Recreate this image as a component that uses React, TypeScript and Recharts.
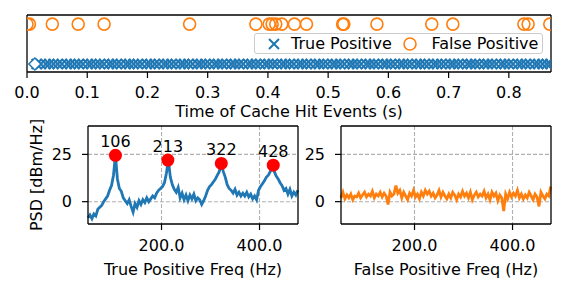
import React from "react";
import {
  ScatterChart,
  ComposedChart,
  Scatter,
  Line,
  XAxis,
  YAxis,
  CartesianGrid,
  Legend,
  ReferenceLine,
} from "recharts";

const BLUE = "#1f77b4";
const ORANGE = "#ff7f0e";

// cache hit event times, in ms
const truePositiveMs = [
  16, 23, 31, 37, 44, 51, 58, 66, 72, 79, 86, 93, 101, 107, 114, 121, 128, 136, 142, 149,
  156, 164, 170, 177, 184, 191, 199, 205, 212, 219, 227, 233, 240, 247, 255, 261, 268, 275,
  283, 289, 296, 303, 311, 317, 324, 331, 339, 345, 352, 359, 367, 373, 380, 387, 395, 401,
  408, 415, 423, 429, 436, 443, 451, 457, 464, 471, 479, 485, 492, 499, 507, 513, 520, 527,
  535, 541, 548, 555, 563, 569, 576, 583, 591, 597, 604, 611, 619, 625, 632, 639, 647, 653,
  660, 667, 675, 681, 688, 695, 703, 709, 716, 723, 731, 737, 744, 751, 759, 765, 772, 779,
  787, 793, 800, 807, 815, 821, 828, 835, 843, 849, 856, 863, 869,
];
const falsePositiveMs = [
  0, 4, 42, 85, 128, 270, 380, 402, 407, 413, 423, 444, 464, 524, 526, 581, 672, 707, 825,
  832, 868,
];
const startMarkerMs = [13];
const TP_ROW = 0.14;
const FP_ROW = 0.84;
const TIME_MAX = 0.87;
const timeTicks = [0, 0.1, 0.2, 0.3, 0.4, 0.5, 0.6, 0.7, 0.8];

// PSD, dBm/Hz
const freqHz = [
  50, 54, 58, 62, 66, 70, 74, 78, 82, 86, 90, 94, 98, 102, 106, 110, 114, 118, 122, 126,
  130, 134, 138, 142, 146, 150, 154, 158, 162, 166, 170, 174, 178, 182, 186, 190, 194, 198,
  202, 206, 210, 214, 218, 222, 226, 230, 234, 238, 242, 246, 250, 254, 258, 262, 266, 270,
  274, 278, 282, 286, 290, 294, 298, 302, 306, 310, 314, 318, 322, 326, 330, 334, 338, 342,
  346, 350, 354, 358, 362, 366, 370, 374, 378, 382, 386, 390, 394, 398, 402, 406, 410, 414,
  418, 422, 426, 430, 434, 438, 442, 446, 450, 454, 458, 462, 466, 470, 474, 478,
];
const truePsd = [
  -8.5, -7, -9, -6.5, -7.5, -4, -3, -2, 0, 1.5, 3, 6, 8.5, 14, 24.5, 12, 7, 5.5, 2, 0.5,
  -1, 1, -2.5, -5.5, -1, -3, 0.5, -1.5, 1, -0.5, 2, 0, 1.5, 3, 2, 4.5, 6, 7, 8, 10,
  15, 22, 13, 9, 6.5, 5, 7.5, 2, 4.5, 1, 3.5, 0.5, 3.5, 1.5, 4, 0.5, 2, 1, -1.5, 0.5,
  3, 6, 8, 9, 10.5, 12, 14, 16, 20.2, 16, 13, 9, 7, 6, 4.5, 6.5, 3.5, 5, 3, 4.5,
  3, 5, 2.5, 4, 1.5, 3, 1, 6, 8, 9.5, 11, 13, 14, 16, 19.3, 16, 13.5, 12, 10, 8.5,
  6, 7, 4, 6.5, 3, 5, 3.5, 6,
];
const falsePsd = [
  2, 5, 1.5, 3.5, 2, 4, 1, 3, 2.5, 4.5, 2, 3.5, 5, 2.5, 4, 3, 5.5, 2, 4, 3,
  5, 2.5, 4.5, 3, -1.5, 5, 3, 4, 8.5, 4.5, 6, 2, 5, 3, 1, 4.5, 3, 6, 2.5, 4,
  1.5, 5, 3, 6, 4, 5.5, 3, 4.5, 2, 3.5, 6, 2.5, 5, 3, 1.5, 4, 2, 5, 3.5, 1,
  4, 2.5, 5.5, 3, 4.5, 2, 5, 1, 3.5, 5, 2.5, 4, 3, 5.5, 2, 4, 1, 5, 3, 4.5,
  0.5, 3.5, 2, -5, 4, 1.5, 5, 2.5, 4.5, 3, 6, 2, 4, 1.5, 3.5, 2, 5, 3, 1, 4,
  2.5, -2.5, 5, 3, 1.5, 4, 3, 8,
];
const peakFreqs = [106, 213, 322, 428];
const peakPsd = [24.5, 22, 20.2, 19.3];
const FREQ_MIN = 50;
const FREQ_MAX = 478.5;
const PSD_MIN = -11.8;
const PSD_MAX = 40;
const freqTicks = [200, 400];
const psdTicks = [0, 25];

const tpData = truePositiveMs.map((ms) => ({ t: ms / 1000, y: TP_ROW }));
const fpData = falsePositiveMs.map((ms) => ({ t: ms / 1000, y: FP_ROW }));
const startData = startMarkerMs.map((ms) => ({ t: ms / 1000, y: TP_ROW }));
const trueRows = freqHz.map((f, i) => ({ f, psd: truePsd[i] }));
const falseRows = freqHz.map((f, i) => ({ f, psd: falsePsd[i] }));
const peakRows = peakFreqs.map((f, i) => ({ f, psd: peakPsd[i] }));

const tickStyle = { fill: "#000", fontSize: 16 };
const tickLineStyle = { stroke: "#000", strokeWidth: 1.2 };
const spine = { stroke: "#000", strokeWidth: 1.3 };

const XMark = (props: any) => {
  const { cx, cy } = props;
  const h = 5;
  return (
    <path
      d={`M${cx - h},${cy - h}L${cx + h},${cy + h}M${cx - h},${cy + h}L${cx + h},${cy - h}`}
      stroke={BLUE}
      strokeWidth={2}
      fill="none"
    />
  );
};

const CircleMark = (props: any) => (
  <circle cx={props.cx} cy={props.cy} r={6} fill="none" stroke={ORANGE} strokeWidth={1.6} />
);

const DiamondMark = (props: any) => {
  const { cx, cy } = props;
  const h = 6;
  return (
    <polygon
      points={`${cx},${cy - h} ${cx + h},${cy} ${cx},${cy + h} ${cx - h},${cy}`}
      fill="#fff"
      stroke={BLUE}
      strokeWidth={1.5}
    />
  );
};

const PeakMark = (props: any) => {
  const { cx, cy, payload } = props;
  return (
    <g>
      <circle cx={cx} cy={cy} r={6.5} fill="#ff0000" />
      <text x={cx} y={cy - 8} textAnchor="middle" fontSize={16} fill="#000">
        {payload.f}
      </text>
    </g>
  );
};

const legendSlots: Record<string, { marker: number; text: number }> = {
  "True Positive": { marker: 18.7, text: 36 },
  "False Positive": { marker: 155, text: 176.5 },
};

const renderLegend = (props: any) => {
  const items = (props.payload || []).filter((p: any) => legendSlots[p.value]);
  return (
    <div
      style={{
        position: "relative",
        width: 289,
        height: 21,
        boxSizing: "border-box",
        border: "1px solid #cccccc",
        borderRadius: 3,
        background: "rgba(255,255,255,0.8)",
        fontSize: 16,
        color: "#000",
      }}
    >
      {items.map((entry: any) => {
        const slot = legendSlots[entry.value];
        const isTrue = entry.value === "True Positive";
        return (
          <React.Fragment key={entry.value}>
            <svg
              width={16}
              height={16}
              style={{ position: "absolute", left: slot.marker - 8, top: 1.5 }}
            >
              {isTrue ? <XMark cx={8} cy={8} /> : <CircleMark cx={8} cy={8} />}
            </svg>
            <span
              style={{
                position: "absolute",
                left: slot.text,
                top: -1,
                lineHeight: "21px",
                whiteSpace: "nowrap",
              }}
            >
              {entry.value}
            </span>
          </React.Fragment>
        );
      })}
    </div>
  );
};

function TimelinePanel() {
  return (
    <ScatterChart width={566} height={120} margin={{ top: 15, right: 15, bottom: 0, left: 21 }}>
      <XAxis
        type="number"
        dataKey="t"
        domain={[0, TIME_MAX]}
        ticks={timeTicks}
        interval={0}
        allowDataOverflow
        tickFormatter={(v: number) => v.toFixed(1)}
        tick={tickStyle}
        tickLine={tickLineStyle}
        tickSize={6}
        tickMargin={9}
        axisLine={spine}
        height={48}
        label={{
          value: "Time of Cache Hit Events (s)",
          position: "insideBottom",
          offset: 3.5,
          fill: "#000",
          fontSize: 16,
        }}
      />
      <YAxis
        type="number"
        dataKey="y"
        domain={[0, 1]}
        ticks={[0, 1]}
        allowDataOverflow
        tick={false}
        tickLine={tickLineStyle}
        tickSize={5}
        width={6}
        axisLine={spine}
      />
      <Scatter
        name="True Positive"
        data={tpData}
        fill={BLUE}
        shape={XMark}
        isAnimationActive={false}
      />
      <Scatter
        name="marker"
        data={startData}
        fill={BLUE}
        shape={DiamondMark}
        legendType="none"
        isAnimationActive={false}
      />
      <Scatter
        name="False Positive"
        data={fpData}
        fill={ORANGE}
        shape={CircleMark}
        isAnimationActive={false}
      />
      <ReferenceLine y={1} stroke="#000" strokeWidth={1.3} ifOverflow="visible" />
      <ReferenceLine x={TIME_MAX} stroke="#000" strokeWidth={1.3} ifOverflow="visible" />
      <Legend
        layout="horizontal"
        verticalAlign="middle"
        align="center"
        content={renderLegend}
        wrapperStyle={{ position: "absolute", left: 254, top: 33, width: 289, height: 21, bottom: "auto" }}
      />
    </ScatterChart>
  );
}

function PsdPanel({
  rows,
  color,
  xLabel,
  yLabel,
  peaks,
  yAxisWidth,
  marginRight,
  width,
}: {
  rows: { f: number; psd: number }[];
  color: string;
  xLabel: string;
  yLabel?: string;
  peaks?: { f: number; psd: number }[];
  yAxisWidth: number;
  marginRight: number;
  width: number;
}) {
  return (
    <ComposedChart
      width={width}
      height={174}
      data={rows}
      margin={{ top: 6, right: marginRight, bottom: 0, left: 0 }}
    >
      <CartesianGrid
        stroke="#b0b0b0"
        strokeDasharray="4 2"
        strokeWidth={1.1}
        horizontalValues={psdTicks}
        verticalValues={freqTicks}
      />
      <XAxis
        type="number"
        dataKey="f"
        domain={[FREQ_MIN, FREQ_MAX]}
        ticks={freqTicks}
        interval={0}
        tickFormatter={(v: number) => v.toFixed(1)}
        tick={tickStyle}
        tickLine={tickLineStyle}
        tickSize={6}
        tickMargin={10}
        axisLine={spine}
        height={70}
        label={{ value: xLabel, position: "insideBottom", offset: 19.5, fill: "#000", fontSize: 16 }}
      />
      <YAxis
        type="number"
        dataKey="psd"
        domain={[PSD_MIN, PSD_MAX]}
        ticks={psdTicks}
        interval={0}
        tick={tickStyle}
        tickLine={tickLineStyle}
        tickSize={6}
        tickMargin={10}
        axisLine={spine}
        width={yAxisWidth}
        label={
          yLabel
            ? {
                value: yLabel,
                angle: -90,
                position: "insideLeft",
                offset: 36,
                fill: "#000",
                fontSize: 16,
                style: { textAnchor: "middle" },
              }
            : undefined
        }
      />
      <Line
        type="linear"
        dataKey="psd"
        stroke={color}
        strokeWidth={2.8}
        dot={false}
        activeDot={false}
        isAnimationActive={false}
      />
      {peaks ? (
        <Scatter data={peaks} dataKey="psd" shape={PeakMark} isAnimationActive={false} />
      ) : null}
      <ReferenceLine y={PSD_MAX} stroke="#000" strokeWidth={1.3} ifOverflow="visible" />
      <ReferenceLine x={FREQ_MAX} stroke="#000" strokeWidth={1.3} ifOverflow="visible" />
    </ComposedChart>
  );
}

export default function App() {
  return (
    <div
      style={{
        position: "absolute",
        left: 0,
        top: 0,
        width: 566,
        height: 294,
        background: "#fff",
        fontFamily: "'DejaVu Sans', sans-serif",
        overflow: "hidden",
      }}
    >
      <div style={{ position: "absolute", left: 0, top: 0 }}>
        <TimelinePanel />
      </div>
      <div style={{ position: "absolute", left: 0, top: 120 }}>
        <PsdPanel
          rows={trueRows}
          color={BLUE}
          xLabel="True Positive Freq (Hz)"
          yLabel="PSD [dBm/Hz]"
          peaks={peakRows}
          yAxisWidth={88}
          marginRight={2}
          width={300}
        />
      </div>
      <div style={{ position: "absolute", left: 300, top: 120 }}>
        <PsdPanel
          rows={falseRows}
          color={ORANGE}
          xLabel="False Positive Freq (Hz)"
          yAxisWidth={41}
          marginRight={15}
          width={266}
        />
      </div>
    </div>
  );
}
